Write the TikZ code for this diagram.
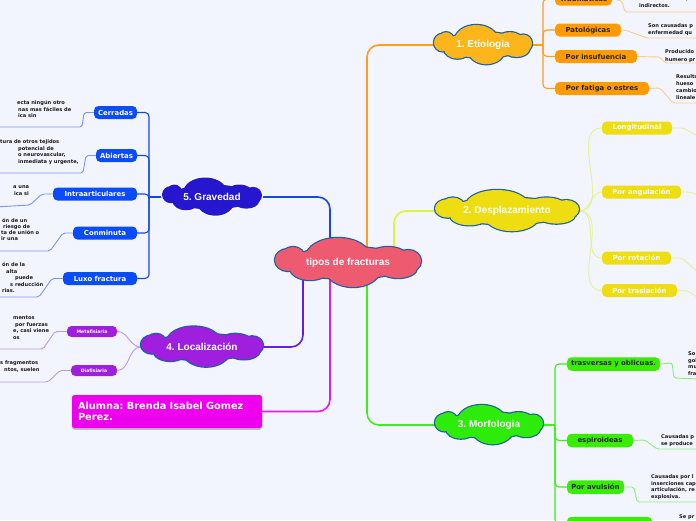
\documentclass[tikz,border=0pt]{standalone}
\usepackage{fontspec}
\setmainfont{Liberation Sans}
\newfontfamily\dvs{DejaVu Sans}
\usetikzlibrary{backgrounds,shadows}
\definecolor{bgc}{RGB}{242,245,253}
\definecolor{cborder}{RGB}{28,95,165}
\definecolor{cred}{RGB}{238,90,112}
\definecolor{corange}{RGB}{252,182,28}
\definecolor{cyellow}{RGB}{238,222,17}
\definecolor{cgreen}{RGB}{45,236,10}
\definecolor{cblue}{RGB}{38,22,205}
\definecolor{cpurple}{RGB}{160,30,222}
\definecolor{norange}{RGB}{255,155,0}
\definecolor{nyellow}{RGB}{238,222,17}
\definecolor{ngreen}{RGB}{55,238,0}
\definecolor{nblue}{RGB}{10,75,250}
\definecolor{npurple}{RGB}{160,30,222}
\definecolor{nmagenta}{RGB}{238,0,238}
\definecolor{lorange}{RGB}{253,205,140}
\definecolor{lyellow}{RGB}{228,242,150}
\definecolor{lgreen}{RGB}{140,240,120}
\definecolor{lblue}{RGB}{120,150,250}
\definecolor{lpurple}{RGB}{190,150,240}
\definecolor{korange}{RGB}{255,158,25}
\definecolor{kyellow}{RGB}{220,245,60}
\definecolor{kgreen}{RGB}{60,240,20}
\definecolor{kblue}{RGB}{25,70,235}
\definecolor{kpurple}{RGB}{100,30,235}
\definecolor{kmagenta}{RGB}{240,20,240}
\tikzset{
  cloudtext/.style={inner sep=0pt, text=white, font=\bfseries\fontsize{10}{12}\selectfont},
  pill/.style={rounded corners=4.5pt, inner sep=0pt, minimum height=13pt,
    font=\dvs\bfseries\fontsize{6.9}{8}\selectfont},
  obox/.style={pill, fill=norange, text=black!85},
  ybox/.style={pill, fill=nyellow, text=white},
  gbox/.style={pill, fill=ngreen, text=black!85, minimum height=13.5pt},
  bbox/.style={pill, fill=nblue, text=white},
  pbox/.style={pill, fill=npurple, text=white, minimum height=11pt,
    font=\dvs\bfseries\fontsize{4.6}{5}\selectfont},
  desc/.style={inner sep=0pt, anchor=base west, text=black!90,
    font=\dvs\bfseries\fontsize{5.1}{6}\selectfont},
  thick line/.style={line width=1.6pt, rounded corners=12pt},
  bar line/.style={line width=1.1pt, rounded corners=4pt},
  dline/.style={line width=0.9pt, rounded corners=2pt},
}
\newcommand{\dtx}[4]{\node[desc] (#1) at (#2,#3+1.8) {#4};}
% cloud made of overlapping puffs, designed for a 146 x 50 cloud
\newcommand{\cloudpuffs}[1]{%
  \path[#1] (0,0) ellipse [x radius=60, y radius=16];
  \path[#1] (-55,-5) ellipse [x radius=12, y radius=11];
  \path[#1] (-10,-6) ellipse [x radius=32, y radius=19];
  \path[#1] (40,-5) ellipse [x radius=20, y radius=11];
  \path[#1] (60,-2) ellipse [x radius=13, y radius=11];
  \path[#1] (50,5) ellipse [x radius=19, y radius=10];
  \path[#1] (5,5) ellipse [x radius=28, y radius=19];
  \path[#1] (-38,5) ellipse [x radius=20, y radius=12];
  \path[#1] (-60,-3) ellipse [x radius=13, y radius=11];}
\newcommand{\cloudat}[6]{%
  \begin{scope}[shift={(#1,#2)}, xscale=#3/146, yscale=#4/50]
    \cloudpuffs{draw=#6, line width=2.4pt}
    \cloudpuffs{fill=#5}
  \end{scope}}
\begin{document}
\frenchspacing
\begin{tikzpicture}[x=1pt,y=-1pt]
\useasboundingbox (0,0) rectangle (696,520);
\begin{scope}
\clip (0,0) rectangle (696,520);
% clouds
\cloudat{348}{263}{146}{50}{cred}{cborder}
\node[cloudtext, minimum width=146pt, minimum height=50pt] (central) at (348,263) {tipos de fracturas};
\cloudat{483}{45}{98}{40}{corange}{cborder}
\node[cloudtext, minimum width=98pt, minimum height=40pt] (etio) at (483,45) {1. Etiologia};
\cloudat{507}{211}{144}{42}{cyellow}{cborder}
\node[cloudtext, minimum width=144pt, minimum height=42pt] (desp) at (507,211) {2. Desplazamiento};
\cloudat{489}{425}{108}{40}{cgreen}{cborder}
\node[cloudtext, minimum width=108pt, minimum height=40pt] (morf) at (489,425) {3. Morfologia};
\cloudat{212}{197}{100}{39}{cblue}{white}
\node[cloudtext, minimum width=100pt, minimum height=39pt] (grav) at (212,197) {5. Gravedad};
\cloudat{202}{347}{122}{41}{cpurple}{cborder}
\node[cloudtext, minimum width=122pt, minimum height=41pt] (loc) at (202,347) {4. Localización};
% alumna
\node[fill=nmagenta, text=white, rounded corners=2.5pt, minimum width=190pt, minimum height=33pt,
  inner sep=0pt, align=left, text width=178pt, font=\dvs\bfseries\fontsize{9.8}{11}\selectfont,
  drop shadow={shadow xshift=0pt, shadow yshift=-1.8pt, fill=black!40, opacity=0.6}] (alum) at (167,411.5)
  {Alumna: Brenda Isabel Gomez\\Perez.};
% orange nodes
\node[obox, minimum width=57pt] (trau) at (583.5,-1) {Traumáticas};
\node[obox, minimum width=66pt] (pato) at (588,30) {Patológicas};
\node[obox, minimum width=82pt] (insu) at (596,56.5) {Por insufuencia};
\node[obox, minimum width=94pt] (fati) at (602,88.5) {Por fatiga o estres};
% yellow nodes
\node[ybox, minimum width=70pt] (long) at (637,128) {Longitudinal};
\node[ybox, minimum width=79pt] (angu) at (641.5,192) {Por angulación};
\node[ybox, minimum width=69pt] (rota) at (636.5,258) {Por rotación};
\node[ybox, minimum width=75pt] (tras) at (639.5,290.5) {Por traslación};
% green nodes
\node[gbox, minimum width=93pt] (trav) at (613.5,364) {trasversas y oblicuas.};
\node[gbox, minimum width=66pt] (espi) at (600,440.5) {espiroideas};
\node[gbox, minimum width=57pt] (avul) at (595.5,487) {Por avulsión};
\node[gbox, minimum width=85pt] (last) at (609.5,523.5) {};
% blue nodes
\node[bbox, minimum width=43pt] (cerr) at (115.5,112.5) {Cerradas};
\node[bbox, minimum width=41pt] (abie) at (116.5,155.5) {Abiertas};
\node[bbox, minimum width=84pt] (intr) at (95,194) {Intraarticulares};
\node[bbox, minimum width=64pt] (conm) at (105,233) {Conminuta};
\node[bbox, minimum width=74pt] (luxo) at (100,278.5) {Luxo fractura};
% purple nodes
\node[pbox, minimum width=50pt] (meta) at (92,331.5) {Metafisiaria};
\node[pbox, minimum width=46pt] (diaf) at (94,370.5) {Diafisiaria};
% descriptions right
\dtx{trauA}{639}{-1}{un modo normal, i}
\dtx{trauB}{639}{6}{indirectos.}
\dtx{patoA}{648}{26}{Son causadas p}
\dtx{patoB}{648}{33}{enfermedad qu}
\dtx{insuA}{665}{52}{Producido}
\dtx{insuB}{665}{59.5}{humero pr}
\dtx{fatiA}{676}{77}{Resulta}
\dtx{fatiB}{676}{84}{hueso}
\dtx{fatiC}{676}{91}{cambio}
\dtx{fatiD}{676}{98}{lineale}
\dtx{travA}{688}{354}{So}
\dtx{travB}{688}{360.5}{gol}
\dtx{travC}{688}{367}{mu}
\dtx{travD}{688}{373.5}{fra}
\dtx{espiA}{661}{437}{Causadas p}
\dtx{espiB}{661}{444}{se produce}
\dtx{avulA}{651}{477}{Causadas por l}
\dtx{avulB}{651}{483.5}{inserciones cap}
\dtx{avulC}{651}{490}{articulación, re}
\dtx{avulD}{651}{496.5}{explosiva.}
\dtx{lastA}{679}{517}{Se pr}
% descriptions left
\dtx{cerrA}{17}{103}{ecta ningún otro}
\dtx{cerrB}{18}{109.5}{nas mas fáciles de}
\dtx{cerrC}{18}{116}{ica sin}
\dtx{abieA}{0}{142}{tura de otros tejidos}
\dtx{abieB}{18}{148.5}{potencial de}
\dtx{abieC}{18}{155}{o neurovascular,}
\dtx{abieD}{18}{161.5}{inmediata y urgente,}
\dtx{intrA}{13}{187}{a una}
\dtx{intrB}{14}{194}{ica si}
\dtx{conmA}{2}{221}{ón de un}
\dtx{conmB}{3}{227}{riesgo de}
\dtx{conmC}{1}{233}{ta de unión o}
\dtx{conmD}{1}{239}{ir una}
\dtx{luxoA}{2}{265}{ón de la}
\dtx{luxoB}{6}{271.5}{alta}
\dtx{luxoC}{15}{278}{puede}
\dtx{luxoD}{10}{284.5}{s reducción}
\dtx{luxoE}{2}{291}{rias.}
\dtx{metaA}{13}{318}{mentos}
\dtx{metaB}{15}{324.5}{por fuerzas}
\dtx{metaC}{13}{331}{e, casi viene}
\dtx{metaD}{13}{337.5}{os}
\dtx{diafA}{0}{363}{s fragmentos}
\dtx{diafB}{4}{370}{ntos, suelen}
\end{scope}
\begin{pgfonlayer}{background}
\clip (0,0) rectangle (696,520);
\fill[bgc] (0,0) rectangle (696,520);
% main connectors
\draw[thick line, kblue] ([xshift=-18pt]central.center) |- (grav.east);
\draw[thick line, korange] ([xshift=19pt]central.center) |- (etio.west);
\draw[thick line, kyellow] ([xshift=46pt]central.center) |- (desp.west);
\draw[thick line, kpurple] ([xshift=-45pt]central.center) |- (loc.east);
\draw[thick line, kmagenta] ([xshift=-18pt]central.center) |- (alum.east);
\draw[thick line, kgreen] ([xshift=19pt]central.center) |- (morf.west);
% etiologia branches
\coordinate (ej) at (543,45);
\draw[bar line, korange] (etio.east) -- (ej);
\foreach \n in {trau,pato,insu,fati} \draw[bar line, korange] (ej) |- (\n.west);
% desplazamiento fan
\foreach \n in {long,angu,rota,tras} \draw[line width=0.9pt, lyellow] (desp.east) to[out=0,in=180] (\n.west);
% morfologia branches
\coordinate (mj) at (555,425);
\draw[bar line, kgreen] (morf.east) -- (mj);
\foreach \n in {trav,espi,avul,last} \draw[bar line, kgreen] (mj) |- (\n.west);
% gravedad branches
\coordinate (gj) at (149,197);
\draw[bar line, kblue] (grav.west) -- (gj);
\foreach \n in {cerr,abie,intr,conm,luxo} \draw[bar line, kblue] (gj) |- (\n.east);
% localizacion fan
\foreach \n in {meta,diaf} \draw[line width=0.9pt, lpurple] (loc.west) to[out=180,in=0] (\n.east);
% description lines
\draw[dline, lorange] (trau.east) -- (622,1) -- (625,12) -- (700,12);
\draw[dline, lorange] (pato.east) -- (625,30) -- (647,38) -- (700,38);
\draw[dline, lorange] (insu.east) -- (660,57) -- (665,63) -- (700,63);
\draw[dline, lorange] (fati.east) -- (660,88) -- (673,103) -- (700,103);
\draw[dline, lyellow] (long.east) -- (683,128) -- (700,137);
\draw[dline, lyellow] (angu.east) -- (689,192) -- (700,195);
\draw[dline, lyellow] (rota.east) -- (682,258) -- (700,274);
\draw[dline, lyellow] (tras.east) -- (688,291) -- (700,299);
\draw[dline, lgreen] (trav.east) -- (672,363) -- (674,378) -- (700,379);
\draw[dline, lgreen] (espi.east) -- (645,440) -- (657,449) -- (700,449);
\draw[dline, lgreen] (avul.east) -- (634,487) -- (637,502) -- (700,502);
\draw[dline, lblue] (cerr.west) -- (84,112.5) -- (82,127) -- (-5,127);
\draw[dline, lblue] (abie.west) -- (86,155.5) -- (83,173) -- (-5,173);
\draw[dline, lblue] (intr.west) -- (42,194) -- (30,205) -- (-5,207);
\draw[dline, lblue] (conm.west) -- (63,233) -- (50,251) -- (-5,251);
\draw[dline, lblue] (luxo.west) -- (52,278.5) -- (39,297) -- (-5,297);
\draw[dline, lpurple] (meta.west) -- (55,331.5) -- (43,349) -- (-5,349);
\draw[dline, lpurple] (diaf.west) -- (60,370.5) -- (48,382) -- (-5,382);
\end{pgfonlayer}
\end{tikzpicture}
\end{document}
